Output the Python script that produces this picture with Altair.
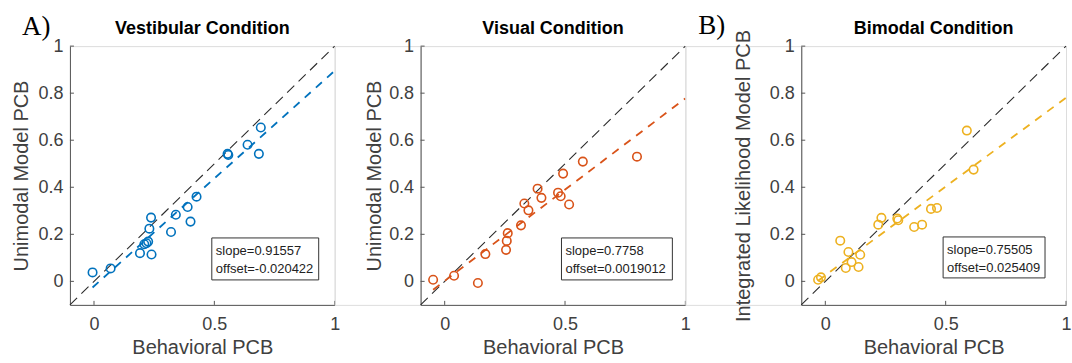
import altair as alt
import pandas as pd

# ---------------- data ----------------
vest_x = [-0.006, 0.069, 0.191, 0.209, 0.225, 0.218, 0.239, 0.230, 0.237, 0.320,
          0.340, 0.389, 0.401, 0.426, 0.555, 0.558, 0.638, 0.685, 0.693]
vest_y = [0.038, 0.055, 0.120, 0.158, 0.169, 0.162, 0.114, 0.224, 0.271, 0.210,
          0.283, 0.316, 0.254, 0.360, 0.542, 0.537, 0.581, 0.542, 0.654]

vis_x = [-0.048, 0.039, 0.138, 0.169, 0.255, 0.258, 0.262, 0.317, 0.331, 0.348,
         0.386, 0.402, 0.471, 0.482, 0.492, 0.517, 0.574, 0.799]
vis_y = [0.007, 0.024, -0.007, 0.116, 0.134, 0.172, 0.205, 0.238, 0.331, 0.302,
         0.394, 0.355, 0.377, 0.362, 0.458, 0.327, 0.509, 0.530]

bim_x = [-0.030, -0.018, 0.062, 0.085, 0.096, 0.109, 0.138, 0.145, 0.220, 0.233,
         0.299, 0.303, 0.369, 0.402, 0.439, 0.464, 0.588, 0.616]
bim_y = [0.007, 0.017, 0.173, 0.057, 0.125, 0.082, 0.061, 0.113, 0.241, 0.270,
         0.267, 0.260, 0.231, 0.241, 0.308, 0.312, 0.641, 0.475]

slopes = [0.91557, 0.7758, 0.75505]
offsets = [-0.020422, 0.0019012, 0.025409]
slope_labels = ["slope=0.91557", "slope=0.7758", "slope=0.75505"]
offset_labels = ["offset=-0.020422", "offset=0.0019012", "offset=0.025409"]

titles = ["Vestibular Condition", "Visual Condition", "Bimodal Condition"]
y_titles = ["Unimodal Model PCB", "Unimodal Model PCB", "Integrated Likelihood Model PCB"]
x_title = "Behavioral PCB"
x_ticks = [0, 0.5, 1]
y_ticks = [0, 0.2, 0.4, 0.6, 0.8, 1]
axis_range = [-0.1, 1]
colors = ["#0072BD", "#D95319", "#EDB120"]

W, H = 265, 259
FONT = "Liberation Sans"


def panel(xs, ys, color, slope, offset, slab, olab, title, ytitle, ytitle_pad,
          box, panel_label=None, label_pos=None):
    pts = pd.DataFrame({"x": xs, "y": ys})
    xsc = alt.Scale(domain=axis_range, nice=False, zero=False)
    ysc = alt.Scale(domain=axis_range, nice=False, zero=False)
    xaxis = alt.Axis(values=x_ticks, title=x_title, grid=False, ticks=False,
                     labelPadding=11, titlePadding=4, labelFontSize=18,
                     titleFontSize=20, labelFont=FONT, titleFont=FONT,
                     labelColor="#404040", titleColor="#404040",
                     titleFontWeight="normal", domainColor="#555",
                     labelFlush=False, format="")
    yaxis = alt.Axis(values=y_ticks, title=ytitle, grid=False, ticks=False,
                     labelPadding=7, titlePadding=ytitle_pad, labelFontSize=18,
                     titleFontSize=20, labelFont=FONT, titleFont=FONT,
                     labelColor="#404040", titleColor="#404040",
                     titleFontWeight="normal", domainColor="#555",
                     labelFlush=False, format="")
    X = alt.X("x:Q", scale=xsc, axis=xaxis)
    Y = alt.Y("y:Q", scale=ysc, axis=yaxis)

    diag = alt.Chart(pd.DataFrame({"x": axis_range, "y": axis_range})).mark_line(
        color="#2b2b2b", strokeWidth=1.1, strokeDash=[10, 6]).encode(x=X, y=Y)

    fx = [min(xs), 1.0]
    fit = alt.Chart(pd.DataFrame({"x": fx, "y": [slope * v + offset for v in fx]})).mark_line(
        color=color, strokeWidth=1.8, strokeDash=[8, 7]).encode(x=X, y=Y)

    scat = alt.Chart(pts).mark_point(shape="circle", filled=False, size=72,
                                     strokeWidth=1.6, color=color, opacity=1).encode(x=X, y=Y)

    xt = alt.Chart(pd.DataFrame({"x": x_ticks})).mark_rule(color="#555", strokeWidth=1).encode(
        x=X, y=alt.value(H), y2=alt.value(H - 4))
    yt = alt.Chart(pd.DataFrame({"y": y_ticks})).mark_rule(color="#555", strokeWidth=1).encode(
        y=Y, x=alt.value(0), x2=alt.value(4))

    one = pd.DataFrame({"a": [0]})
    bx0, by0, bx1, by1 = box
    rect = alt.Chart(one).mark_rect(fill="white", stroke="#333", strokeWidth=1).encode(
        x=alt.value(bx0), x2=alt.value(bx1), y=alt.value(by0), y2=alt.value(by1))
    t1 = alt.Chart(one).mark_text(align="left", baseline="middle", font=FONT, fontSize=13,
                                  color="#222", text=slab).encode(
        x=alt.value(bx0 + 4), y=alt.value(by0 + 13))
    t2 = alt.Chart(one).mark_text(align="left", baseline="middle", font=FONT, fontSize=13,
                                  color="#222", text=olab).encode(
        x=alt.value(bx0 + 4), y=alt.value(by0 + 31))
    ttl = alt.Chart(one).mark_text(align="center", baseline="alphabetic", font=FONT,
                                   fontSize=18, fontWeight="bold", color="black",
                                   text=title).encode(
        x=alt.value(W / 2), y=alt.value(-12))

    layers = [diag, fit, scat, xt, yt, rect, t1, t2, ttl]
    if panel_label is not None:
        lab = alt.Chart(one).mark_text(align="left", baseline="alphabetic",
                                       font="Liberation Serif", fontSize=27,
                                       color="black", text=panel_label).encode(
            x=alt.value(label_pos[0]), y=alt.value(label_pos[1]))
        layers.append(lab)

    return alt.layer(*layers).properties(width=W, height=H)


def spacer(w):
    return alt.Chart(pd.DataFrame({"a": [0]})).mark_point(opacity=0).encode(
        x=alt.value(0), y=alt.value(0)).properties(width=w, height=H)


p1 = panel(vest_x, vest_y, colors[0], slopes[0], offsets[0], slope_labels[0], offset_labels[0],
           titles[0], y_titles[0], 6, (142, 192, 249, 234), "A)", (-48, -11))
p2 = panel(vis_x, vis_y, colors[1], slopes[1], offsets[1], slope_labels[1], offset_labels[1],
           titles[1], y_titles[1], 4, (141, 192, 252, 234))
p3 = panel(bim_x, bim_y, colors[2], slopes[2], offsets[2], slope_labels[2], offset_labels[2],
           titles[2], y_titles[2], 16, (142, 191, 244, 232), "B)", (-103, -12))

chart = alt.hconcat(p1, spacer(86), p2, spacer(116), p3, spacing=0, bounds="flush"
).properties(padding={"left": 11, "top": 11, "right": 0, "bottom": 0}
).configure_view(stroke=None).configure(background="white")

chart.save("out.html", embed_options={"renderer": "svg", "actions": False})
